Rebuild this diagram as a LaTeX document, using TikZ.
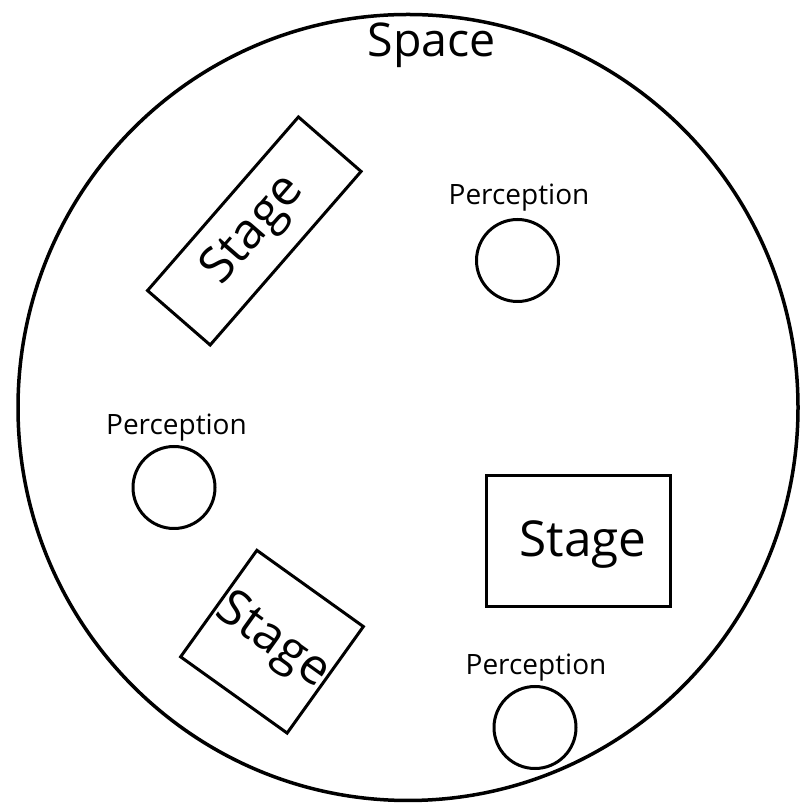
\documentclass[tikz,border=0pt]{standalone}
\usepackage{fontspec}
\setmainfont{Open Sans}
\usetikzlibrary{shapes.geometric}
\begin{document}
\begin{tikzpicture}[x=1pt,y=1pt,
  outline/.style={draw=black,line width=3pt},
  percircle/.style={outline,circle,minimum size=82pt,inner sep=0pt},
  perlabel/.style={anchor=base,inner sep=0pt,font=\fontsize{28}{30}\selectfont},
  stagebox/.style={outline,rectangle,inner sep=0pt,font=\fontsize{49.5}{52}\selectfont}]
\useasboundingbox (0,0) rectangle (800,805);
% outer space
\node[draw=black,line width=3.5pt,ellipse,minimum width=780pt,minimum height=786pt,inner sep=0pt] (space) at (408,397.5) {};
\node[anchor=base,inner sep=0pt,font=\fontsize{46.5}{48}\selectfont] (spacelabel) at (432,748) {Space};
% stages
\node[stagebox,minimum width=230pt,minimum height=83pt,rotate=49] (stageA) at (254.3,574) {Stage};
\node[stagebox,minimum width=184pt,minimum height=131pt,text depth=4pt] (stageB) at (578.5,264) {\hspace*{9pt}Stage};
\node[stagebox,minimum width=131pt,minimum height=131pt,rotate=-35.6] (stageC) at (272,163.3) {Stage};
% perceptions
\node[perlabel] (perAlabel) at (519,600) {Perception};
\node[percircle] (perA) at (517.5,544.5) {};
\node[perlabel] (perBlabel) at (176.5,370) {Perception};
\node[percircle] (perB) at (174,317.5) {};
\node[perlabel] (perClabel) at (536,130) {Perception};
\node[percircle] (perC) at (535,77.5) {};
\end{tikzpicture}
\end{document}
